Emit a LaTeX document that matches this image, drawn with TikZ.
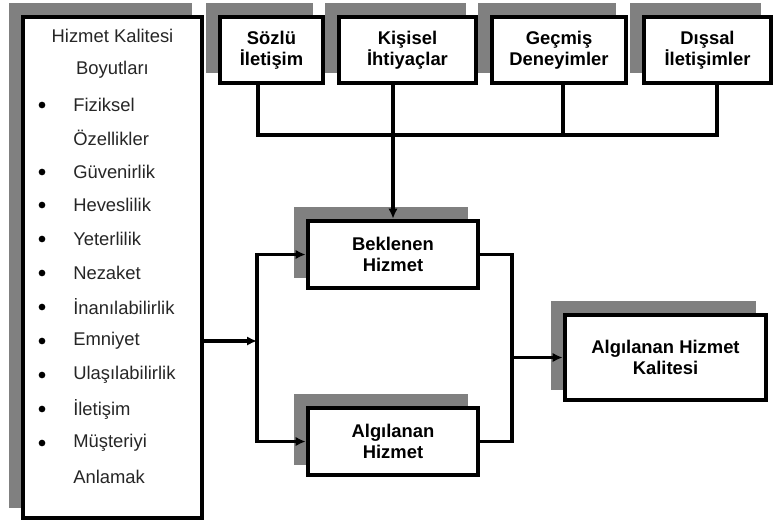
\documentclass[tikz,border=0pt]{standalone}
\usepackage{fontspec}
\setmainfont{Liberation Sans}
\usepackage{tikz}
\usetikzlibrary{arrows.meta,shadows}

\tikzset{
  box/.style={draw, line width=3.5pt, fill=white, align=center,
    font=\fontsize{13.8}{15.5}\selectfont\bfseries,
    drop shadow={shadow xshift=-9pt, shadow yshift=9pt, opacity=1, fill=gray, draw=gray}},
  conn/.style={line width=2.8pt},
  tip/.style={-{Latex[length=7.5pt,width=7pt]}},
  item/.style={anchor=west, inner sep=0pt, font=\fontsize{13.8}{15}\selectfont, text=black!85},
  head/.style={inner sep=0pt, font=\fontsize{13.8}{15}\selectfont, text=black!85},
  dot/.style={circle, fill=black, inner sep=0pt, minimum size=5pt}
}

\begin{document}
\begin{tikzpicture}[x=0.75pt,y=-0.75pt]
  \useasboundingbox (0,0) rectangle (773,525);

  % dimensions box
  \node[box, minimum width=134.25pt, minimum height=375.75pt] (L) at (112.5,267.5) {};
  \node[head] (H-1) at (112.5,36) {Hizmet Kalitesi};
  \node[head] (H-2) at (112.5,70) {Boyutları};
  \node[dot] (D-1) at (42,105) {};
  \node[item] (I-1) at (73,105) {Fiziksel};
  \node[item] (I-2) at (73,138) {Özellikler};
  \node[dot] (D-2) at (42,172) {};
  \node[item] (I-3) at (73,172) {Güvenirlik};
  \node[dot] (D-3) at (42,205) {};
  \node[item] (I-4) at (73,205) {Heveslilik};
  \node[dot] (D-4) at (42,239) {};
  \node[item] (I-5) at (73,239) {Yeterlilik};
  \node[dot] (D-5) at (42,273) {};
  \node[item] (I-6) at (73,273) {Nezaket};
  \node[dot] (D-6) at (42,307) {};
  \node[item] (I-7) at (73,307) {İnanılabilirlik};
  \node[dot] (D-7) at (42,341) {};
  \node[item] (I-8) at (73,341) {Emniyet};
  \node[dot] (D-8) at (42,375) {};
  \node[item] (I-9) at (73,375) {Ulaşılabilirlik};
  \node[dot] (D-9) at (42,409) {};
  \node[item] (I-10) at (73,409) {İletişim};
  \node[dot] (D-10) at (42,443) {};
  \node[item] (I-11) at (73,443) {Müşteriyi};
  \node[item] (I-12) at (73,477) {Anlamak};

  % top factors
  \node[box, minimum width=77.25pt, minimum height=49.5pt] (T-1) at (271.5,50) {Sözlü\\İletişim};
  \node[box, minimum width=102.75pt, minimum height=49.5pt] (T-2) at (407.5,50) {Kişisel\\İhtiyaçlar};
  \node[box, minimum width=100.5pt, minimum height=49.5pt] (T-3) at (559,50) {Geçmiş\\Deneyimler};
  \node[box, minimum width=95.25pt, minimum height=49.5pt] (T-4) at (707.5,50) {Dışsal\\İletişimler};

  % service boxes
  \node[box, minimum width=127.5pt, minimum height=50.25pt] (M-1) at (393,254.5) {Beklenen\\Hizmet};
  \node[box, minimum width=127.5pt, minimum height=50.25pt] (M-2) at (393,441.5) {Algılanan\\Hizmet};
  \node[box, minimum width=150.75pt, minimum height=63.75pt] (R) at (665.5,357.5) {Algılanan Hizmet\\Kalitesi};

  \coordinate (J-1) at (258,135);
  \coordinate (J-3) at (563,135);
  \coordinate (J-4) at (717,135);
  \coordinate (S) at (257,341);
  \coordinate (E) at (512,357.5);

  \draw[conn] (J-1 |- T-1.south) -- (J-1) -- (J-4) -- (J-4 |- T-4.south);
  \draw[conn] (J-3 |- T-3.south) -- (J-3);
  \draw[conn,tip] (M-1 |- T-2.south) -- (M-1.north);
  \draw[conn,tip] (L.east |- S) -- (S);
  \draw[conn,tip] (S) |- (M-1.west);
  \draw[conn,tip] (S) |- (M-2.west);
  \draw[conn] (M-1.east) -| (E) |- (M-2.east);
  \draw[conn,tip] (E) -- (R.west);
\end{tikzpicture}
\end{document}
